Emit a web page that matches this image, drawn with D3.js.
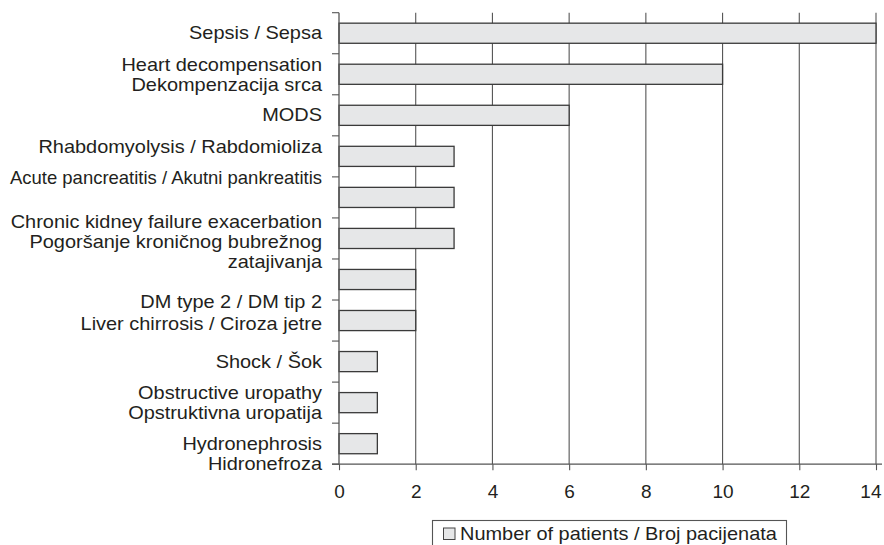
<!DOCTYPE html>
<meta charset="utf-8">
<style>
body { margin: 0; background: #fff; }
svg { display: block; }
.lbl, .tick text, .legend text {
  font-family: "Liberation Sans", Arial, Helvetica, sans-serif;
  font-size: 18.3px;
  fill: #231f20;
}
.tick text { font-size: 19px; }
</style>
<body>
<svg width="884" height="545"></svg>
<script src="https://cdn.jsdelivr.net/npm/d3@7"></script>
<script>
// data
var causes = [
  ["Sepsis / Sepsa"],
  ["Heart decompensation", "Dekompenzacija srca"],
  ["MODS"],
  ["Rhabdomyolysis / Rabdomioliza"],
  ["Acute pancreatitis / Akutni pankreatitis"],
  ["Chronic kidney failure exacerbation", "Pogoršanje kroničnog bubrežnog", "zatajivanja"],
  ["DM type 2 / DM tip 2"],
  ["Liver chirrosis / Ciroza jetre"],
  ["Shock / Šok"],
  ["Obstructive uropathy", "Opstruktivna uropatija"],
  ["Hydronephrosis", "Hidronefroza"]
];
var patients = [14, 10, 6, 3, 3, 3, 2, 2, 1, 1, 1];
var xTicks = [0, 2, 4, 6, 8, 10, 12, 14];
var seriesName = "Number of patients / Broj pacijenata";

// label nudges, the original labels don't sit exactly on their bars
var labelNudge = [-1, 0, -1, -10, -19.5, 3.5, 22, 3, 0, 0, 10];

var svg = d3.select("svg");
var plotL = 339, plotR = 876, plotT = 12.7, plotB = 464.2;
var stretch = 1.09;      // original type is a bit wider than Liberation Sans
var maxLabelW = 312;

var x = d3.scaleLinear().domain([0, 14]).range([plotL, plotR]);
var y = d3.scaleBand()
    .domain(d3.range(causes.length))
    .range([plotT, plotB])
    .paddingInner(0.51)
    .paddingOuter(0.255);
var step = y.step();

// grid lines
svg.append("g").selectAll("line")
  .data(xTicks.filter(function(d) { return d > 0; }))
  .enter().append("line")
    .attr("x1", function(d) { return x(d); })
    .attr("x2", function(d) { return x(d); })
    .attr("y1", plotT)
    .attr("y2", plotB)
    .attr("stroke", "#555")
    .attr("stroke-width", 1.1);

// bars
svg.append("g").selectAll("rect")
  .data(patients)
  .enter().append("rect")
    .attr("x", x(0))
    .attr("y", function(d, i) { return y(i); })
    .attr("width", function(d) { return x(d) - x(0); })
    .attr("height", y.bandwidth())
    .attr("fill", "#e6e7e8")
    .attr("stroke", "#3a3a3a")
    .attr("stroke-width", 1.3);

// x axis
var xAxis = svg.append("g")
    .attr("transform", "translate(0," + plotB + ")")
    .call(d3.axisBottom(x).tickValues(xTicks).tickSize(6).tickSizeOuter(0).tickPadding(14.3));
xAxis.select(".domain").remove();
xAxis.selectAll(".tick line").attr("stroke", "#555").attr("stroke-width", 1.1);
xAxis.append("line")
    .attr("x1", plotL - 7).attr("x2", plotR + 6)
    .attr("stroke", "#555").attr("stroke-width", 1.3);
// keep the last tick label inside the picture
xAxis.selectAll(".tick text").each(function(d) {
  var w = this.getComputedTextLength();
  var over = x(d) + w / 2 - 881;
  if (over > 0) d3.select(this).attr("x", -over);
});

// y axis: line and ticks at band boundaries
var yAxis = svg.append("g");
yAxis.append("line")
    .attr("x1", plotL).attr("x2", plotL)
    .attr("y1", plotT).attr("y2", plotB)
    .attr("stroke", "#555").attr("stroke-width", 1.3);
yAxis.selectAll(".yt")
  .data(d3.range(causes.length + 1))
  .enter().append("line")
    .attr("class", "yt")
    .attr("x1", plotL - 7).attr("x2", plotL)
    .attr("y1", function(i) { return plotT + i * step; })
    .attr("y2", function(i) { return plotT + i * step; })
    .attr("stroke", "#555").attr("stroke-width", 1.1);

// category labels
svg.append("g").selectAll("text")
  .data(causes)
  .enter().append("text")
    .attr("class", "lbl")
    .attr("text-anchor", "end")
    .attr("transform", function(d, i) {
      var c = y(i) + y.bandwidth() / 2;
      var first = c - (d.length - 1) * 10 + 6.3 + labelNudge[i];
      return "translate(322," + first + ") scale(" + stretch + ",1)";
    })
    .each(function(d) {
      d3.select(this).selectAll("tspan")
        .data(d)
        .enter().append("tspan")
          .attr("x", 0)
          .attr("y", function(t, j) { return j * 20; })
          .text(function(t) { return t; })
          .each(function() {
            var w = this.getComputedTextLength() * stretch;
            if (w > maxLabelW) {
              d3.select(this)
                .attr("textLength", maxLabelW / stretch)
                .attr("lengthAdjust", "spacingAndGlyphs");
            }
          });
    });

// legend
var lg = svg.append("g").attr("class", "legend");
lg.append("rect")
    .attr("x", 432.5).attr("y", 520.5)
    .attr("width", 354).attr("height", 40)
    .attr("fill", "none").attr("stroke", "#555").attr("stroke-width", 1.1);
lg.append("rect")
    .attr("x", 443.5).attr("y", 528)
    .attr("width", 11.5).attr("height", 11.5)
    .attr("fill", "#e6e7e8").attr("stroke", "#444").attr("stroke-width", 1);
lg.append("text")
    .attr("transform", "translate(460,540) scale(" + stretch + ",1)")
    .text(seriesName);
</script>
</body>
